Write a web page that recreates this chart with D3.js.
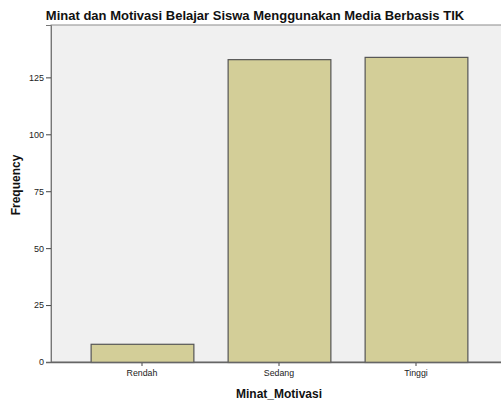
<!DOCTYPE html>
<html>
<head>
<meta charset="utf-8">
<script src="https://cdn.jsdelivr.net/npm/d3@7"></script>
<style>
  body { margin: 0; background: #fff; }
  svg { display: block; font-family: Arial, "Liberation Sans", sans-serif; }
</style>
</head>
<body>
<svg id="chart" width="501" height="403"></svg>
<script>
// data
const categories = ['Rendah', 'Sedang', 'Tinggi'];
const frequencies = [8, 133, 134];
const yTicks = [0, 25, 50, 75, 100, 125];

const svg = d3.select('#chart');

// plot frame
const plot = { left: 51, top: 25, right: 512, bottom: 362 };

const x = d3.scaleBand()
    .domain(categories)
    .range([73.5, 484.5])
    .paddingInner(0.25)
    .paddingOuter(0.125);

const y = d3.scaleLinear()
    .domain([0, 148])
    .range([plot.bottom, plot.top]);

// background
svg.append('rect')
    .attr('x', plot.left).attr('y', plot.top)
    .attr('width', plot.right - plot.left).attr('height', plot.bottom - plot.top)
    .attr('fill', '#f0f0f0')
    .attr('stroke', '#8c8c8c')
    .attr('stroke-width', 1);

// bars
svg.append('g').selectAll('rect').data(frequencies).join('rect')
    .attr('x', (d, i) => x(categories[i]) + 0.5)
    .attr('y', d => y(d) + 0.5)
    .attr('width', x.bandwidth())
    .attr('height', d => plot.bottom - y(d))
    .attr('fill', '#d3ce98')
    .attr('stroke', '#555')
    .attr('stroke-width', 1.2);

// y axis
const yAxis = svg.append('g')
    .attr('transform', `translate(${plot.left},0)`)
    .call(d3.axisLeft(y).tickValues(yTicks).tickSize(5).tickPadding(2));
yAxis.select('.domain').attr('stroke', '#777');
yAxis.selectAll('.tick line').attr('stroke', '#444');
yAxis.selectAll('.tick text').attr('font-size', 9).attr('fill', '#222')
    .attr('font-family', 'Arial, "Liberation Sans", sans-serif');

// x axis
const xAxis = svg.append('g')
    .attr('transform', `translate(0,${plot.bottom})`)
    .call(d3.axisBottom(x).tickSize(4).tickPadding(4));
xAxis.select('.domain').remove();
xAxis.selectAll('.tick line').attr('stroke', '#444');
xAxis.selectAll('.tick text').attr('font-size', 8.8).attr('fill', '#222')
    .attr('font-family', 'Arial, "Liberation Sans", sans-serif');

// bottom axis line drawn over the frame
svg.append('line')
    .attr('x1', plot.left - 5).attr('x2', plot.right)
    .attr('y1', plot.bottom + 0.5).attr('y2', plot.bottom + 0.5)
    .attr('stroke', '#666').attr('stroke-width', 1.5);

// titles
svg.append('text')
    .attr('x', 255).attr('y', 20)
    .attr('text-anchor', 'middle')
    .attr('font-size', 13).attr('font-weight', 'bold').attr('fill', '#111')
    .text('Minat dan Motivasi Belajar Siswa Menggunakan Media Berbasis TIK');

svg.append('text')
    .attr('x', 279).attr('y', 398)
    .attr('text-anchor', 'middle')
    .attr('font-size', 12).attr('font-weight', 'bold').attr('fill', '#111')
    .text('Minat_Motivasi');

svg.append('text')
    .attr('transform', 'translate(20,185) rotate(-90)')
    .attr('text-anchor', 'middle')
    .attr('font-size', 12).attr('font-weight', 'bold').attr('fill', '#111')
    .text('Frequency');
</script>
</body>
</html>
